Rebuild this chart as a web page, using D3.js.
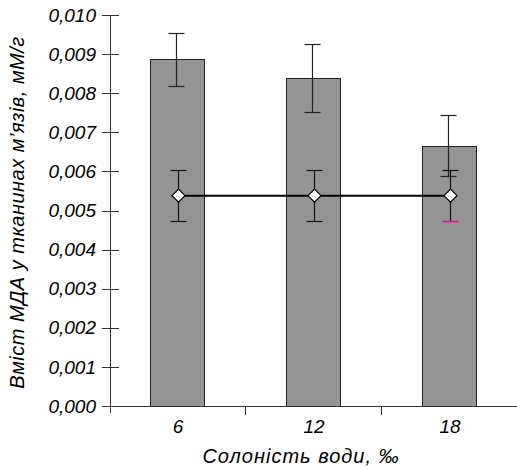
<!DOCTYPE html>
<html>
<head>
<meta charset="utf-8">
<script src="https://cdn.jsdelivr.net/npm/d3@7"></script>
<style>
  html, body { margin: 0; padding: 0; background: #fff; }
  svg { display: block; }
  text { font-family: "Liberation Sans", Arial, sans-serif; font-style: italic; fill: #000; }
</style>
</head>
<body>
<svg id="chart" width="517" height="472"></svg>
<script>
// Salinity groups (‰)
const categories = ["6", "12", "18"];
// MDA content in muscle tissue, mM/g (bars) with their errors
const barValues = [0.00887, 0.00839, 0.00666];
const barErrors = [0.00068, 0.00087, 0.00078];
// Control level (line) with its errors
const lineValues = [0.00538, 0.00538, 0.00538];
const lineErrors = [0.00065, 0.00065, 0.00065];
// Y tick labels
const yTicks = [0, 0.001, 0.002, 0.003, 0.004, 0.005, 0.006, 0.007, 0.008, 0.009, 0.010];
const yTickLabels = ["0,000", "0,001", "0,002", "0,003", "0,004", "0,005", "0,006", "0,007", "0,008", "0,009", "0,010"];

const svg = d3.select("#chart");
const plotLeft = 110, plotRight = 518, plotTop = 15, plotBottom = 406;

const x = d3.scaleBand().domain(categories).range([plotLeft, plotRight]).paddingInner(0).paddingOuter(0);
const y = d3.scaleLinear().domain([0, 0.010]).range([plotBottom, plotTop]);
const barW = 54;
const cx = c => x(c) + x.bandwidth() / 2;

// Bars
svg.append("g").selectAll("rect").data(categories).join("rect")
  .attr("x", c => Math.round(cx(c)) - 1 - barW / 2 + 0.5)
  .attr("y", (c, i) => Math.round(y(barValues[i])) + 0.5)
  .attr("width", barW)
  .attr("height", (c, i) => plotBottom - Math.round(y(barValues[i])))
  .attr("fill", "#949494")
  .attr("stroke", "#222")
  .attr("stroke-width", 1);

// Error bars drawn as a vertical whisker with caps
function errorBar(g, xc, v, e, capColorLow, color) {
  const yt = Math.round(y(v + e)) + 0.5, yb = Math.round(y(v - e)) + 0.5;
  g.append("line").attr("x1", xc).attr("x2", xc).attr("y1", yt).attr("y2", yb)
    .attr("stroke", color).attr("stroke-width", 1.2);
  g.append("line").attr("x1", xc - 8).attr("x2", xc + 8).attr("y1", yt).attr("y2", yt)
    .attr("stroke", color).attr("stroke-width", 1.2);
  g.append("line").attr("x1", xc - 8).attr("x2", xc + 8).attr("y1", yb).attr("y2", yb)
    .attr("stroke", capColorLow || color).attr("stroke-width", capColorLow ? 1.6 : 1.2);
}

const eg = svg.append("g");
categories.forEach((c, i) => {
  errorBar(eg, Math.round(cx(c)) - 1.5, barValues[i], barErrors[i], null, "#222");
});
categories.forEach((c, i) => {
  errorBar(eg, Math.round(cx(c)) + 0.5, lineValues[i], lineErrors[i], i === 2 ? "#e0158a" : null, "#111");
});

// Control line
const line = d3.line().x(c => Math.round(cx(c)) + 0.5).y((c, i) => y(lineValues[i]));
svg.append("path").datum(categories).attr("d", line)
  .attr("fill", "none").attr("stroke", "#000").attr("stroke-width", 2);

// Diamond markers
svg.append("g").selectAll("path").data(categories).join("path")
  .attr("transform", (c, i) => `translate(${Math.round(cx(c)) + 0.5},${y(lineValues[i])})`)
  .attr("d", "M0,-6.5L6.5,0L0,6.5L-6.5,0Z")
  .attr("fill", "#fff").attr("stroke", "#000").attr("stroke-width", 1.2);

// Y axis
const yAxis = svg.append("g");
yAxis.append("line").attr("x1", plotLeft + 0.5).attr("x2", plotLeft + 0.5).attr("y1", plotTop).attr("y2", plotBottom + 7)
  .attr("stroke", "#333").attr("stroke-width", 1);
yAxis.selectAll("line.tick").data(yTicks).join("line").attr("class", "tick")
  .attr("x1", plotLeft - 8).attr("x2", plotLeft + 9)
  .attr("y1", d => Math.round(y(d)) + 0.5).attr("y2", d => Math.round(y(d)) + 0.5)
  .attr("stroke", "#333").attr("stroke-width", 1);
yAxis.selectAll("text").data(yTicks).join("text")
  .attr("x", 96).attr("y", d => y(d)).attr("dy", "0.35em")
  .attr("text-anchor", "end").attr("font-size", 19)
  .text((d, i) => yTickLabels[i]);

// X axis
const xAxis = svg.append("g");
xAxis.append("line").attr("x1", plotLeft).attr("x2", 517).attr("y1", plotBottom + 0.5).attr("y2", plotBottom + 0.5)
  .attr("stroke", "#333").attr("stroke-width", 1);
xAxis.selectAll("line.tick").data(categories).join("line").attr("class", "tick")
  .attr("x1", c => Math.round(x(c) + x.bandwidth()) - 0.5).attr("x2", c => Math.round(x(c) + x.bandwidth()) - 0.5)
  .attr("y1", plotBottom).attr("y2", plotBottom + 9)
  .attr("stroke", "#333").attr("stroke-width", 1);
xAxis.selectAll("text").data(categories).join("text")
  .attr("x", c => cx(c)).attr("y", 433)
  .attr("text-anchor", "middle").attr("font-size", 19)
  .text(c => c);

// Axis titles
svg.append("text").attr("x", 301).attr("y", 463).attr("text-anchor", "middle").attr("font-size", 20)
  .attr("letter-spacing", 1)
  .text("Солоність води, ‰");
svg.append("text").attr("transform", "translate(24,212.5) rotate(-90)").attr("text-anchor", "middle").attr("font-size", 20)
  .attr("letter-spacing", 0.5)
  .text("Вміст МДА у тканинах м’язів,  мМ/г");
</script>
</body>
</html>
